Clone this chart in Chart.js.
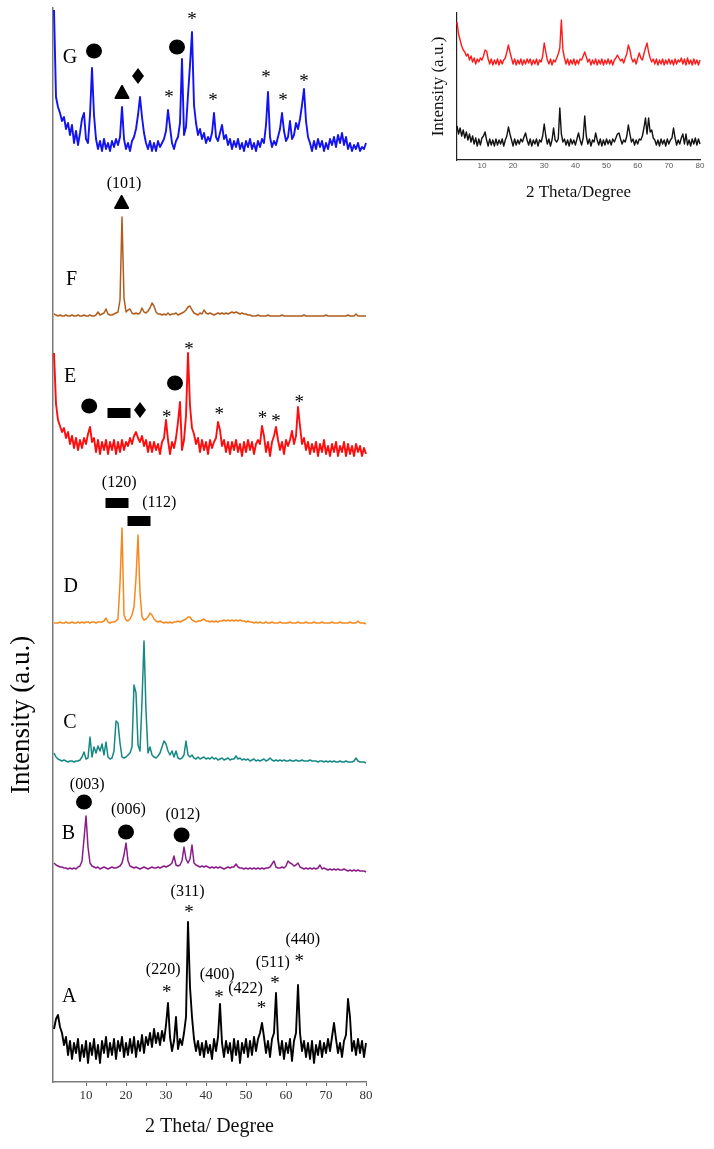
<!DOCTYPE html>
<html>
<head>
<meta charset="utf-8">
<script src="https://cdn.jsdelivr.net/npm/chart.js@4.4.1/dist/chart.umd.min.js"></script>
<style>
  html, body { margin: 0; padding: 0; background: #fff; }
  #main  { position: absolute; left: 0; top: 0; }
  #inset { position: absolute; left: 420px; top: 0; }
</style>
</head>
<body>
<canvas id="main" width="390" height="1149"></canvas>
<canvas id="inset" width="294" height="210"></canvas>
<script>
/* ── DATA ── */
// 2θ scan positions (deg), shared by every pattern
const twoTheta = [
  2,2.5,3,3.5,4,4.5,5,5.5,6,6.5,
  7,7.5,8,8.5,9,9.5,10,10.5,11,11.5,
  12,12.5,13,13.5,14,14.5,15,15.5,16,16.5,
  17,17.5,18,18.5,19,19.5,20,20.5,21,21.5,
  22,22.5,23,23.5,24,24.5,25,25.5,26,26.5,
  27,27.5,28,28.5,29,29.5,30,30.5,31,31.5,
  32,32.5,33,33.5,34,34.5,35,35.5,36,36.5,
  37,37.5,38,38.5,39,39.5,40,40.5,41,41.5,
  42,42.5,43,43.5,44,44.5,45,45.5,46,46.5,
  47,47.5,48,48.5,49,49.5,50,50.5,51,51.5,
  52,52.5,53,53.5,54,54.5,55,55.5,56,56.5,
  57,57.5,58,58.5,59,59.5,60,60.5,61,61.5,
  62,62.5,63,63.5,64,64.5,65,65.5,66,66.5,
  67,67.5,68,68.5,69,69.5,70,70.5,71,71.5,
  72,72.5,73,73.5,74,74.5,75,75.5,76,76.5,
  77,77.5,78,78.5,79,79.5,80,80.5,81,81.5,
  82];

// intensities above each pattern's own baseline (a.u.)
const patA = [
  18,28,32,20,14,2,10,-8,6,-12,
  4,-6,8,-14,2,-10,6,-16,4,-8,
  8,-12,2,-16,6,-6,10,-10,4,-8,
  8,-12,6,-4,10,-10,4,-8,8,-6,
  10,-10,6,-4,12,-6,10,2,14,0,
  18,4,14,2,16,6,22,44,10,-4,
  6,30,-2,8,2,14,30,125,60,30,
  8,-4,6,-8,4,-10,6,-6,2,-12,
  8,-4,10,43,4,-10,6,-6,4,-14,
  8,-8,6,-16,4,-6,8,-10,6,-8,
  10,-4,8,14,24,10,-6,6,-10,8,
  14,54,8,-8,6,-12,4,-6,8,-14,
  6,14,62,14,-4,6,-10,4,-12,6,
  -16,2,-8,6,-10,4,-6,8,-4,10,
  24,8,-6,4,-10,6,12,48,30,-4,
  6,-8,8,-6,6,-10,4,null,null,null,
  null];
const patB = [
  6,4,3,2,2,1,1,0,1,0,
  1,0,2,3,8,30,53,22,6,3,
  2,1,2,0,1,2,1,0,1,2,
  1,1,2,3,6,14,26,8,3,2,
  1,2,1,0,1,2,1,0,1,2,
  1,1,2,1,2,3,2,3,4,6,
  13,4,3,4,8,22,10,6,10,24,
  6,4,3,2,3,2,3,2,1,2,
  1,2,1,2,1,0,1,2,1,2,
  2,5,2,1,1,0,1,0,1,0,
  1,0,1,0,1,0,1,1,2,5,
  8,2,1,1,2,1,3,8,6,5,
  3,4,6,2,1,0,1,0,1,0,
  1,0,1,4,0,1,0,-1,0,-1,
  0,-1,0,-1,-1,0,-1,-2,-1,-2,
  -1,-2,-1,-2,-2,-2,-3,null,null,null,
  null];
const patC = [
  8,4,2,1,0,1,0,-1,0,0,
  -1,0,0,1,4,9,2,3,24,4,
  14,8,15,10,17,6,19,4,2,3,
  10,40,38,18,4,3,4,6,8,14,
  76,68,16,10,60,120,50,8,14,6,
  4,3,5,8,14,20,17,10,6,10,
  4,10,3,2,3,6,20,6,4,6,
  3,2,4,2,3,4,2,3,2,4,
  2,3,1,2,3,1,2,3,1,2,
  2,5,2,3,1,2,1,2,0,1,
  2,0,1,0,1,2,0,1,3,1,
  0,1,0,1,0,1,0,0,1,0,
  0,1,0,0,1,0,0,0,1,0,
  0,0,-1,0,0,-1,0,-1,0,-1,
  0,-1,-1,0,-1,-1,0,-1,-1,-1,
  0,3,0,-1,-1,-1,-2,null,null,null,
  null];
const patD = [
  0,0,0,1,0,0,1,0,0,1,
  0,0,1,0,1,0,1,1,0,1,
  1,0,1,1,1,2,5,1,0,1,
  1,2,4,40,95,8,3,2,4,8,
  16,45,88,30,6,3,4,6,10,8,
  4,2,1,2,1,0,1,0,1,0,
  1,1,2,1,2,3,4,6,6,3,
  2,1,2,2,3,4,2,2,1,2,
  1,2,1,2,2,3,2,3,2,3,
  2,3,2,3,2,2,1,2,1,1,
  0,1,0,1,0,0,1,0,0,1,
  0,0,0,1,0,0,0,0,1,0,
  0,0,1,0,0,0,1,0,0,0,
  1,0,0,0,1,0,0,0,0,1,
  0,0,0,1,0,0,0,0,1,0,
  0,0,2,0,0,0,-1,null,null,null,
  null];
const patE = [
  93,42,26,20,14,18,8,14,2,10,
  -2,8,-4,6,-2,8,2,12,19,4,
  8,-6,6,-8,4,-4,6,-8,4,-4,
  6,-8,4,-6,6,-4,4,0,8,2,
  10,14,8,4,10,0,6,-6,4,-6,
  4,-4,2,-8,4,8,26,6,-8,4,
  -2,8,24,44,-4,6,30,93,40,18,
  12,2,8,-6,6,-4,4,-8,6,-2,
  4,8,24,16,0,6,-6,4,-8,4,
  -4,6,-6,2,-10,4,-6,6,-4,4,
  -8,2,6,2,20,10,-6,4,-10,4,
  10,19,6,-4,4,-8,6,0,6,15,
  2,10,39,20,2,8,-4,4,-8,2,
  -6,4,-10,2,-6,6,-8,0,-10,2,
  -6,4,-10,0,-6,4,-10,2,-8,0,
  -10,2,-6,0,-10,-2,-8,0,-6,null,
  null];
const patF = [
  2,1,0,1,0,0,1,0,0,1,
  0,0,1,0,0,1,0,0,1,0,
  0,1,4,1,2,3,7,2,1,1,
  2,3,4,16,99,18,4,6,7,3,
  2,3,2,3,8,4,3,5,8,13,
  10,4,2,2,1,2,1,3,1,2,
  2,3,1,2,3,4,6,9,10,6,
  3,2,1,3,2,6,3,2,3,2,
  1,2,3,2,3,2,3,2,3,4,
  3,4,3,2,3,2,2,1,1,0,
  0,0,1,0,0,0,0,1,0,0,
  0,0,0,0,1,0,0,0,0,0,
  0,0,0,0,0,1,0,0,0,0,
  0,0,0,0,0,0,1,0,0,0,
  0,0,0,0,0,0,0,1,0,0,
  0,2,0,0,0,0,0,null,null,null,
  null];
const patG = [
  133,46,36,30,22,26,14,20,8,18,
  0,12,-2,10,24,30,4,0,28,75,
  28,4,-6,2,-8,4,-6,0,-8,2,
  -4,4,-2,6,36,4,-6,0,-8,2,
  6,14,28,46,26,10,0,-6,2,-8,
  0,-8,2,-4,0,4,12,33,16,0,
  -6,2,6,20,84,8,16,48,78,111,
  38,20,8,14,4,10,0,6,2,10,
  30,6,2,10,18,4,8,-2,4,-6,
  2,-4,4,-6,0,-8,2,-4,4,-6,
  0,-8,2,-4,4,0,18,51,6,-4,
  2,-2,6,14,30,12,2,6,22,4,
  8,20,14,24,38,54,22,6,0,-8,
  2,-6,4,-4,2,-8,0,-6,4,-2,
  6,-4,8,0,10,-2,6,-6,0,-8,
  -2,-6,0,-8,-4,-6,0,-8,-4,-6,
  null];
// inset: red and black patterns
const insetRed = [
  40,28,22,16,12,10,6,8,2,6,
  0,4,-2,3,0,4,2,6,12,11,
  3,-2,3,-3,2,-2,3,-3,2,-2,
  2,4,10,17,10,4,-2,3,-3,2,
  -2,3,-3,2,-2,3,-1,3,-3,2,
  -2,3,-3,2,0,6,19,10,2,-2,
  3,-3,2,0,4,8,14,42,12,4,
  -2,3,-3,2,-2,3,-3,2,-2,3,
  2,6,10,5,0,3,-3,2,-2,3,
  -3,2,-2,3,-3,2,-2,3,-2,2,
  -3,2,4,7,4,1,3,-1,4,8,
  17,12,4,0,3,-2,4,9,4,2,
  8,14,19,10,4,0,3,-2,3,-3,
  2,-2,3,-3,2,-2,3,-2,2,-3,
  3,-2,2,0,4,-2,3,-3,4,-2,
  2,-3,3,-2,2,-3,2,null,null,null,
  null];
const insetBlack = [
  16,8,14,6,12,4,10,2,8,0,
  6,-2,4,-4,3,-3,4,6,10,2,
  -4,3,-3,2,-4,3,-3,2,-2,3,
  -4,2,6,15,8,2,-4,3,-3,2,
  -2,3,0,5,9,2,-3,3,-4,2,
  -2,3,-4,2,0,6,18,6,-2,3,
  -4,2,14,2,0,3,34,8,0,3,
  -3,2,-4,3,-2,2,-3,3,9,2,
  -3,4,26,6,-2,3,-4,2,0,9,
  2,-3,3,-4,2,-3,3,-2,2,-3,
  3,0,4,8,9,3,-2,2,0,6,
  17,8,0,3,-3,2,-2,3,2,6,
  14,24,8,24,10,12,4,2,-3,2,
  -4,3,-2,2,-4,3,-2,2,4,14,
  4,-3,2,-2,4,8,-2,8,-3,2,
  -4,3,-2,4,-3,3,-2,null,null,null,
  null];

// stacking offsets (a.u.) of each pattern on the shared axis
const stackA = 35, stackB = 213, stackC = 321, stackD = 459, stackE = 636, stackF = 766, stackG = 939;
const insetStackRed = 98, insetStackBlack = 18;

// phase markers: [2θ, level]
const circleMarks  = [[12,1031],[32.75,1035],[10.8,676],[32.25,699],[9.5,280],[20,250],[33.9,247]];
const triangleMarks = [[19,990],[18.9,880]];
const diamondMarks = [[23,1006],[23.5,672]];
const barMarks     = [[18.25,669],[17.75,579],[23.25,561]];
const starMarks    = [
  [36.5,1066],[30.75,988],[41.75,985],[55,1008],[59.25,985],[64.5,1004],
  [35.75,736],[30.2,668],[43.3,671],[54.1,667],[57.5,664],[63.3,683],
  [35.75,173],[30.2,93],[43.25,88],[53.9,77],[57.25,102],[63.3,124]];
const hklLabels = [
  ['(101)',19.5,898],['(120)',18.3,599],['(112)',28.3,579],
  ['(003)',10.3,297],['(006)',20.6,272],['(012)',34.2,267],
  ['(311)',35.4,190],['(220)',29.3,112],['(400)',42.8,107],
  ['(422)',49.9,93],['(511)',56.7,119],['(440)',64.2,142]];
const sampleLetters = [['G',6,1024],['F',6.4,802],['E',6,705],['D',6.2,495],['C',6,359],['B',5.6,248],['A',5.8,85]];

/* ── HELPERS ── */
const toPoints = (vals, base) => twoTheta.map((t, i) => ({x: t, y: vals[i] == null ? null : vals[i] + base}));
const trace = (vals, base, color, w) => ({
  data: toPoints(vals, base), borderColor: color, borderWidth: w || 1.5,
  pointRadius: 0, tension: 0, borderJoinStyle: 'round', clip: false, spanGaps: false
});

/* ── ANNOTATIONS ── */
const marksPlugin = {
  id: 'marks',
  afterDatasetsDraw(chart) {
    const {ctx, scales: {x, y}} = chart;
    const P = ([t, v]) => [x.getPixelForValue(t), y.getPixelForValue(v)];
    ctx.save();
    ctx.fillStyle = '#000';
    circleMarks.forEach(m => { const [px, py] = P(m); ctx.beginPath(); ctx.ellipse(px, py, 8, 7.5, 0, 0, Math.PI * 2); ctx.fill(); });
    barMarks.forEach(m => { const [px, py] = P(m); ctx.fillRect(px - 11.5, py - 5, 23, 10); });
    ctx.lineJoin = 'round'; ctx.lineWidth = 2; ctx.strokeStyle = '#000';
    triangleMarks.forEach(m => {
      const [px, py] = P(m); ctx.beginPath();
      ctx.moveTo(px, py - 6); ctx.lineTo(px + 6.5, py + 6); ctx.lineTo(px - 6.5, py + 6); ctx.closePath();
      ctx.fill(); ctx.stroke();
    });
    diamondMarks.forEach(m => {
      const [px, py] = P(m); ctx.beginPath();
      ctx.moveTo(px, py - 8); ctx.lineTo(px + 6, py); ctx.lineTo(px, py + 8); ctx.lineTo(px - 6, py); ctx.closePath();
      ctx.fill();
    });
    ctx.textAlign = 'center';
    ctx.textBaseline = 'alphabetic';
    ctx.font = '19px "Liberation Serif"';
    starMarks.forEach(m => { const [px, py] = P(m); ctx.fillText('*', px, py + 8.5); });
    ctx.textBaseline = 'middle';
    ctx.font = '16px "Liberation Serif"';
    hklLabels.forEach(([s, t, v]) => { const [px, py] = P([t, v]); ctx.fillText(s, px, py); });
    ctx.font = '20px "Liberation Serif"';
    sampleLetters.forEach(([s, t, v]) => { const [px, py] = P([t, v]); ctx.fillText(s, px, py); });
    // y-axis title sits low on the stack, beside patterns B/C
    ctx.translate(29, 794);
    ctx.rotate(-Math.PI / 2);
    ctx.textAlign = 'left';
    ctx.textBaseline = 'alphabetic';
    ctx.font = '27px "Liberation Serif"';
    ctx.fillText('Intensity (a.u.)', 0, 0);
    ctx.restore();
  }
};

/* ── MAIN STACK ── */
new Chart(document.getElementById('main'), {
  type: 'line',
  data: {
    datasets: [
      trace(patA, stackA, '#000000', 1.9),
      trace(patB, stackB, '#8a1c88'),
      trace(patC, stackC, '#168883'),
      trace(patD, stackD, '#f5881f'),
      trace(patE, stackE, '#ff0d0d', 1.9),
      trace(patF, stackF, '#b05c1c'),
      trace(patG, stackG, '#1212f2', 1.9)
    ]
  },
  options: {
    responsive: false, animation: false,
    layout: {padding: {left: 0, right: 24, top: 8, bottom: 0}},
    plugins: {legend: {display: false}, tooltip: {enabled: false}},
    scales: {
      x: {
        type: 'linear', min: 1.75, max: 80,
        afterFit(s) { s.height = 67; },
        afterBuildTicks(s) { s.ticks = s.ticks.filter(t => t.value % 5 === 0); },
        ticks: {stepSize: 5, autoSkip: false, maxRotation: 0, padding: 2, color: '#333',
                font: {family: 'Liberation Serif', size: 13}, callback: v => v % 10 === 0 ? v : ''},
        grid: {display: true, drawOnChartArea: false, drawTicks: true, tickLength: 4, color: '#666'},
        border: {display: true, color: '#7a7a7a', width: 1.5},
        title: {display: true, text: '2 Theta/ Degree', color: '#111',
                font: {family: 'Liberation Serif', size: 20}, padding: {top: 0, bottom: 10}}
      },
      y: {
        type: 'linear', min: 0, max: 1074,
        afterFit(s) { s.width = 53; },
        ticks: {display: false},
        grid: {display: false},
        border: {display: true, color: '#7a7a7a', width: 1.5}
      }
    }
  },
  plugins: [marksPlugin]
});

/* ── INSET ── */
new Chart(document.getElementById('inset'), {
  type: 'line',
  data: {
    datasets: [
      trace(insetRed, insetStackRed, '#ff1a1a', 1.4),
      trace(insetBlack, insetStackBlack, '#111111', 1.4)
    ]
  },
  options: {
    responsive: false, animation: false,
    layout: {padding: {left: 0, right: 14, top: 13, bottom: 0}},
    plugins: {legend: {display: false}, tooltip: {enabled: false}},
    scales: {
      x: {
        type: 'linear', min: 2, max: 80,
        afterFit(s) { s.height = 50; },
        afterBuildTicks(s) { s.ticks = s.ticks.filter(t => t.value % 10 === 0); },
        ticks: {stepSize: 10, autoSkip: false, maxRotation: 0, padding: 1, color: '#555',
                font: {family: 'Liberation Sans', size: 8}},
        grid: {display: false, drawTicks: false},
        border: {display: true, color: '#222', width: 1.2},
        title: {display: true, text: '2 Theta/Degree', color: '#111',
                font: {family: 'Liberation Serif', size: 17}, padding: {top: 0, bottom: 7}}
      },
      y: {
        type: 'linear', min: 0, max: 147,
        afterFit(s) { s.width = 37; },
        ticks: {display: false},
        grid: {display: false, drawTicks: false},
        border: {display: true, color: '#222', width: 1.2},
        title: {display: true, text: 'Intensity (a.u.)', color: '#111',
                font: {family: 'Liberation Serif', size: 17}, padding: {top: 8, bottom: 0}}
      }
    }
  }
});
</script>
</body>
</html>
